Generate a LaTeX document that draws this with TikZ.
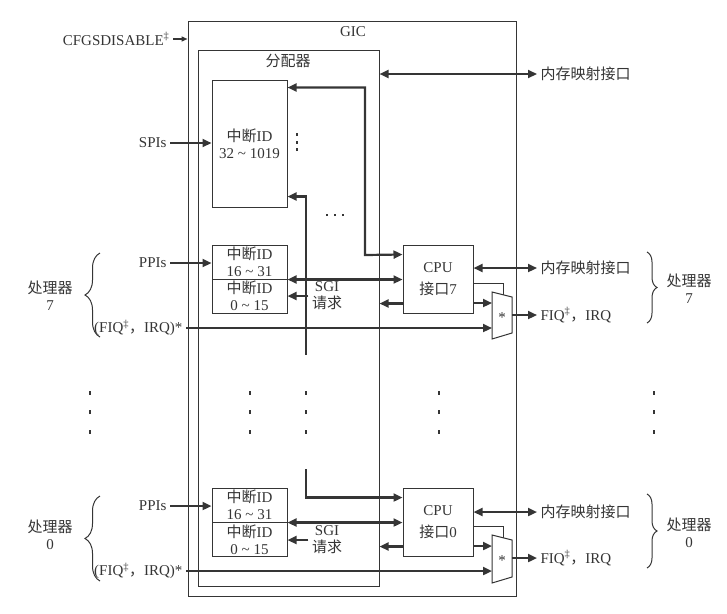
\documentclass[tikz,border=0pt]{standalone}
\usepackage{fontspec}
\setmainfont{Liberation Serif}
\newfontfamily\zhfont{Noto Sans CJK SC}
\newcommand\zh[1]{{\zhfont #1}}
\newcommand\dotmark{\rule{2pt}{4pt}}
\newcommand\tallvdots{\vbox{\baselineskip=19.5pt\lineskiplimit=0pt\hbox{\dotmark}\hbox{\dotmark}\hbox{\dotmark}}}
\newcommand\shortvdots{\vbox{\baselineskip=7.5pt\lineskiplimit=0pt\hbox{\rule{2pt}{3pt}}\hbox{\rule{2pt}{3pt}}\hbox{\rule{2pt}{3pt}}}}
\newcommand\hdotsrow{\hbox{\rule{2.2pt}{2.2pt}\kern5.5pt\rule{2.2pt}{2.2pt}\kern5.5pt\rule{2.2pt}{2.2pt}}}
\usetikzlibrary{arrows.meta,decorations.pathreplacing}
\definecolor{ink}{HTML}{353535}

\begin{document}
\begin{tikzpicture}[x=1pt,y=-1pt,>={Triangle[length=9pt,width=8pt]},
    font=\fontsize{15}{17}\selectfont,text=ink,
    box/.style={draw=ink,line width=1pt,inner sep=0pt,align=center},
    idbox/.style={box,minimum width=75pt,minimum height=34pt},
    cpubox/.style={box,minimum width=70pt,minimum height=68pt,font=\fontsize{15}{22}\selectfont},
    link/.style={draw=ink,line width=2.2pt},
    wire/.style={draw=ink,line width=1pt},
    lbl/.style={align=center},
    brace/.style={draw=ink,line width=1pt,decorate,decoration={brace,amplitude=#1}}]
  \useasboundingbox (0,0) rectangle (727,613);

  % GIC and distributor
  \node[box,minimum width=328pt,minimum height=575pt] (gic) at (352,308.5) {};
  \node (gicname) at (353,32) {GIC};
  \node[box,minimum width=181pt,minimum height=536pt] (dist) at (288.5,318) {};
  \node (distname) at (288,61) {\zh{分配器}};
  \node[anchor=east] (cfg) at (173,39) {CFGSDISABLE\textsuperscript{‡}};
  \node[anchor=west] (mmd) at (537,74) {\zh{内存映射接口}};
  \draw[link,->,line width=1.4pt,>={Triangle[length=6pt,width=5pt]}] (cfg.east) -- (cfg.east -| gic.west);
  \draw[link,<->] (mmd.west -| dist.east) -- (mmd.west);

  % shared interrupts
  \node[idbox,minimum height=127pt] (spi) at (249.5,143.5) {\zh{中断}ID\\32 \textasciitilde{} 1019};
  \node[anchor=east] (spis) at (170,143) {SPIs};
  \node (spidots) at (297,142) {\shortvdots};
  \node (moredots) at (335,215) {\hdotsrow};
  \draw[link,->] (spis.east) -- (spis.east -| spi.west);

  % processor 7
  \node[idbox] (hi7) at (249.5,262) {\zh{中断}ID\\16 \textasciitilde{} 31};
  \node[idbox] (lo7) at (249.5,296) {\zh{中断}ID\\0 \textasciitilde{} 15};
  \node[cpubox] (cpu7) at (438,279) {CPU\\\zh{接口}7};
  \node[anchor=east] (ppis7) at (170,263) {PPIs};
  \node[lbl] (sgi7) at (327,296) {SGI\\\zh{请求}};
  \node[anchor=west] (mm7) at (537,268) {\zh{内存映射接口}};
  \node[anchor=west] (fiq7) at (537,315) {FIQ\textsuperscript{‡}\zh{，}IRQ};
  \node[anchor=east] (irq7) at (186,328) {(FIQ\textsuperscript{‡}\zh{，}IRQ)*};
  \node[lbl] (cpuleft7) at (50,296) {\zh{处理器}\\7};
  \node[lbl] (cpuright7) at (689,289) {\zh{处理器}\\7};
  \draw[wire,fill=white] (492,292) -- (512,297) -- (512,333) -- (492,339) -- cycle;
  \coordinate (m7a) at (492,303);
  \coordinate (m7b) at (492,328);
  \coordinate (m7o) at (512,315);
  \coordinate (m7s) at (503,294.8);
  \coordinate (tail7) at (306,355);
  \coordinate (c7l) at ([yshift=10pt]cpu7.south west);
  \node (mux7) at (502,318) {*};
  \draw[link,<->] ([yshift=-8pt]spi.north east) -| (365,255) -- ([yshift=-10pt]cpu7.north west);
  \draw[link,<-] ([yshift=11pt]spi.south east) -| (tail7);
  \draw[link,->] (ppis7.east) -- (ppis7.east -| hi7.west);
  \draw[link,<->] (hi7.south east) -- (hi7.south east -| cpu7.west);
  \draw[link,->] (sgi7.west) -- (sgi7.west -| lo7.east);
  \draw[link,->] (c7l) -- (c7l -| dist.east);
  \draw[link,<->] (mm7.west -| cpu7.east) -- (mm7.west);
  \draw[wire] ([yshift=-4pt]cpu7.east) -| (m7s);
  \draw[link,->] (m7a -| cpu7.east) -- (m7a);
  \draw[link,->] (m7o) -- (fiq7.west);
  \draw[link,->] (irq7.east) -- (irq7.east -| m7b);
  \draw[brace=15pt] (100,337) -- (100,253);
  \draw[brace=10pt] (647,252) -- (647,323);

  % the other processors
  \node (dots1) at (90,412) {\tallvdots};
  \node (dots2) at (250,412) {\tallvdots};
  \node (dots3) at (306,412) {\tallvdots};
  \node (dots4) at (439,412) {\tallvdots};
  \node (dots5) at (654,412) {\tallvdots};

  % processor 0
  \node[idbox] (hi0) at (249.5,505) {\zh{中断}ID\\16 \textasciitilde{} 31};
  \node[idbox] (lo0) at (249.5,539.5) {\zh{中断}ID\\0 \textasciitilde{} 15};
  \node[cpubox] (cpu0) at (438,522) {CPU\\\zh{接口}0};
  \node[anchor=east] (ppis0) at (170,506) {PPIs};
  \node[lbl] (sgi0) at (327,540) {SGI\\\zh{请求}};
  \node[anchor=west] (mm0) at (537,512) {\zh{内存映射接口}};
  \node[anchor=west] (fiq0) at (537,558) {FIQ\textsuperscript{‡}\zh{，}IRQ};
  \node[anchor=east] (irq0) at (186,571) {(FIQ\textsuperscript{‡}\zh{，}IRQ)*};
  \node[lbl] (cpuleft0) at (50,535) {\zh{处理器}\\0};
  \node[lbl] (cpuright0) at (689,533) {\zh{处理器}\\0};
  \draw[wire,fill=white] (492,535) -- (512,540) -- (512,577) -- (492,583) -- cycle;
  \coordinate (m0a) at (492,546);
  \coordinate (m0b) at (492,571);
  \coordinate (m0o) at (512,558);
  \coordinate (m0s) at (503,537.8);
  \coordinate (tail0) at (306,469);
  \coordinate (c0l) at ([yshift=10pt]cpu0.south west);
  \node (mux0) at (502,561) {*};
  \draw[link,->] (tail0) |- ([yshift=-10pt]cpu0.north west);
  \draw[link,->] (ppis0.east) -- (ppis0.east -| hi0.west);
  \draw[link,<->] (hi0.south east) -- (hi0.south east -| cpu0.west);
  \draw[link,->] (sgi0.west) -- (sgi0.west -| lo0.east);
  \draw[link,->] (c0l) -- (c0l -| dist.east);
  \draw[link,<->] (mm0.west -| cpu0.east) -- (mm0.west);
  \draw[wire] ([yshift=-4pt]cpu0.east) -| (m0s);
  \draw[link,->] (m0a -| cpu0.east) -- (m0a);
  \draw[link,->] (m0o) -- (fiq0.west);
  \draw[link,->] (irq0.east) -- (irq0.east -| m0b);
  \draw[brace=15pt] (100,581) -- (100,496);
  \draw[brace=10pt] (647,494) -- (647,568);
\end{tikzpicture}
\end{document}
